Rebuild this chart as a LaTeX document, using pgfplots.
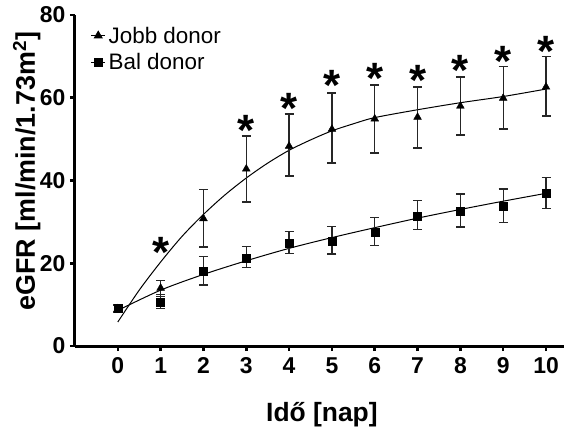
\documentclass[border=0pt]{standalone}
\usepackage{fontspec}
\setmainfont{Liberation Sans}
\usepackage{pgfplots}
\pgfplotsset{compat=1.18}
\usepackage{pgfplotstable}

\pgfplotstableread{
x y ep em
0 9.0 0.8 0.8
1 14.0 1.9 2.0
2 30.8 7.0 6.9
3 42.8 8.0 8.0
4 48.3 7.8 7.2
5 52.4 8.7 8.2
6 54.9 8.2 8.3
7 55.3 7.3 7.4
8 58.0 7.0 7.0
9 59.9 7.6 7.5
10 62.6 7.3 7.0
}\jobb

\pgfplotstableread{
x y ep em
0 9.2 0.8 0.8
1 10.6 1.9 1.6
2 18.1 3.6 3.4
3 21.3 2.8 2.3
4 24.9 2.8 2.5
5 25.4 3.5 3.2
6 27.6 3.4 3.3
7 31.4 3.7 3.3
8 32.6 4.1 3.8
9 33.7 4.2 3.9
10 37.0 3.7 3.8
}\bal

\pgfplotstableread{
x y
1 24.6
3 54.0
4 59.3
5 64.8
6 66.6
7 66.0
8 68.4
9 70.8
10 73.2
}\stars

\begin{document}
\begin{tikzpicture}
\begin{axis}[
  scale only axis, width=489bp, height=331bp,
  xmin=-1, xmax=10.42, ymin=0, ymax=80,
  axis x line=bottom, axis y line=left,
  axis line style={line width=3bp, -},
  xtick={0,1,...,10}, ytick={0,20,...,80},
  minor tick num=0,
  tick align=outside, major tick length=5bp,
  tick style={line width=2.5bp, black},
  /pgf/number format/assume math mode=true,
  tick label style={font=\fontsize{23}{23}\selectfont\bfseries},
  xticklabel style={text height=16.5bp, text depth=0pt, anchor=north, yshift=-2bp},
  yticklabel style={xshift=-1bp},
  xlabel={Idő [nap]},
  ylabel={eGFR [ml/min/1.73m\textsuperscript{2}]},
  every axis x label/.style={at={(axis description cs:0.505,-0.2296)}, anchor=base, font=\fontsize{26.5}{26.5}\selectfont\bfseries},
  every axis y label/.style={at={(axis description cs:-0.0818,0.528)}, anchor=base, rotate=90, font=\fontsize{27}{27}\selectfont\bfseries},
  legend style={at={(axis description cs:0.032,0.968)}, anchor=north west, draw=none, fill=none,
    font=\fontsize{22.5}{22.5}\selectfont, row sep=7bp, inner sep=0pt,
    nodes={inner xsep=3bp, inner ysep=1bp}},
  legend cell align=left,
  legend image code/.code={\draw[mark repeat=2,mark phase=2,#1] plot coordinates {(0bp,0bp) (7bp,0bp) (14bp,0bp)};},
  clip=false,
]
\addlegendimage{black, line width=0.8bp, mark=triangle*, mark size=4.5bp, mark options={solid}}
\addlegendentry{Jobb donor}
\addlegendimage{black, line width=0.8bp, mark=square*, mark size=4.0bp, mark options={solid}}
\addlegendentry{Bal donor}

% fitted curves
\addplot[black, line width=1bp, smooth, forget plot] coordinates {
(0,5.8) (0.5,13.5) (1,20.3) (1.5,26.5) (2,31.8) (2.5,36.5) (3,40.6) (3.5,44.2)
(4,47.3) (4.5,49.8) (5,52.0) (5.5,53.7) (6,55.2) (7,57.1) (8,58.8) (9,60.3) (10,62.1)};
\addplot[black, line width=1bp, smooth, forget plot] coordinates {
(0,8.6) (1,13.5) (2,17.3) (3,20.6) (4,23.6) (5,26.2) (6,28.6) (7,30.9) (8,33.0) (9,35.0) (10,36.9)};

% data with error bars
\addplot[only marks, black, mark=triangle*, mark size=4.5bp, forget plot,
  error bars/.cd, y dir=both, y explicit,
  error bar style={line width=1.4bp, black!85},
  error mark options={line width=1.4bp, black!85, mark size=4.5bp, rotate=90}]
  table[x=x, y=y, y error plus=ep, y error minus=em] {\jobb};
\addplot[only marks, black, mark=square*, mark size=4.0bp, forget plot,
  error bars/.cd, y dir=both, y explicit,
  error bar style={line width=1.4bp, black!85},
  error mark options={line width=1.4bp, black!85, mark size=4.5bp, rotate=90}]
  table[x=x, y=y, y error plus=ep, y error minus=em] {\bal};

% significance asterisks
\addplot[draw=none, forget plot, nodes near coords={*},
  every node near coord/.append style={anchor=base, yshift=-23bp, inner sep=0pt,
    font=\fontsize{44}{44}\selectfont\bfseries}]
  table[x=x, y=y] {\stars};
\end{axis}
\pgfresetboundingbox
\path (-75bp,-84bp) rectangle (489bp,346bp);
\end{tikzpicture}
\end{document}
